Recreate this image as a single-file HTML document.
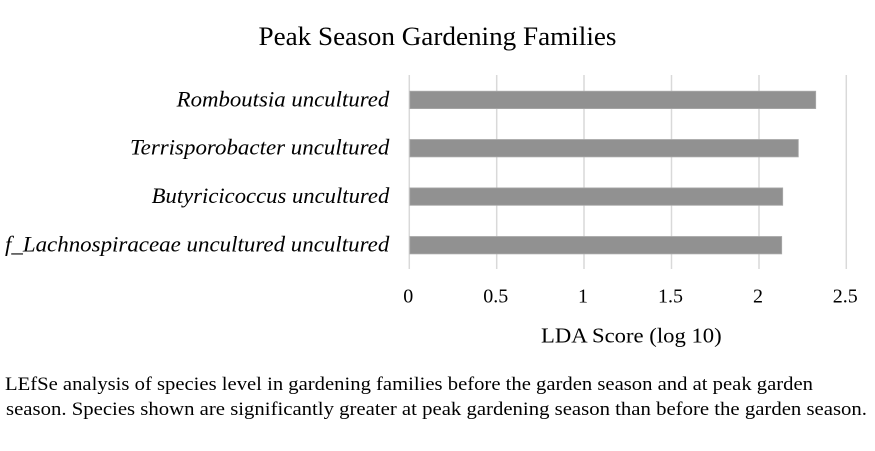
<!DOCTYPE html>
<html>
<head>
<meta charset="utf-8">
<style>
html,body{margin:0;padding:0;background:#fff;}
svg{display:block;}
text{font-family:"Liberation Serif","Times New Roman",serif;fill:#000;}
</style>
</head>
<body>
<svg width="875" height="451" viewBox="0 0 875 451" xmlns="http://www.w3.org/2000/svg">
  <rect width="875" height="451" fill="#fff"/>
  <text x="258.5" y="45" font-size="26.5" textLength="358" lengthAdjust="spacingAndGlyphs">Peak Season Gardening Families</text>

  <g stroke="#d9d9d9" stroke-width="1.5">
    <line x1="409.3" y1="75" x2="409.3" y2="269"/>
    <line x1="496.7" y1="75" x2="496.7" y2="269"/>
    <line x1="584" y1="75" x2="584" y2="269"/>
    <line x1="671.5" y1="75" x2="671.5" y2="269"/>
    <line x1="759" y1="75" x2="759" y2="269"/>
    <line x1="846.3" y1="75" x2="846.3" y2="269"/>
  </g>

  <g fill="#919191" stroke="#a9a9a9" stroke-width="0.8">
    <rect x="409.8" y="91.2" width="405.9" height="17.4"/>
    <rect x="409.8" y="139.5" width="388.5" height="17.4"/>
    <rect x="409.8" y="187.9" width="372.9" height="17.4"/>
    <rect x="409.8" y="236.5" width="371.9" height="17.4"/>
  </g>

  <g font-size="22" font-style="italic">
    <text x="176.7" y="106.7" textLength="212.6" lengthAdjust="spacingAndGlyphs">Romboutsia uncultured</text>
    <text x="130" y="154.5" textLength="259.3" lengthAdjust="spacingAndGlyphs">Terrisporobacter uncultured</text>
    <text x="151.7" y="203" textLength="237.6" lengthAdjust="spacingAndGlyphs">Butyricicoccus uncultured</text>
    <text x="5" y="251.5" textLength="384.3" lengthAdjust="spacingAndGlyphs">f_Lachnospiraceae uncultured uncultured</text>
  </g>

  <g font-size="20" text-anchor="middle">
    <text x="408.3" y="302.3">0</text>
    <text x="495.8" y="302.3">0.5</text>
    <text x="583" y="302.3">1</text>
    <text x="670.5" y="302.3">1.5</text>
    <text x="758" y="302.3">2</text>
    <text x="845.3" y="302.3">2.5</text>
  </g>

  <text x="541" y="342.7" font-size="21" textLength="180.7" lengthAdjust="spacingAndGlyphs">LDA Score (log 10)</text>

  <text x="5" y="390" font-size="19" textLength="808" lengthAdjust="spacingAndGlyphs">LEfSe analysis of species level in gardening families before the garden season and at peak garden</text>
  <text x="6" y="415" font-size="19" textLength="861" lengthAdjust="spacingAndGlyphs">season. Species shown are significantly greater at peak gardening season than before the garden season.</text>
</svg>
</body>
</html>
